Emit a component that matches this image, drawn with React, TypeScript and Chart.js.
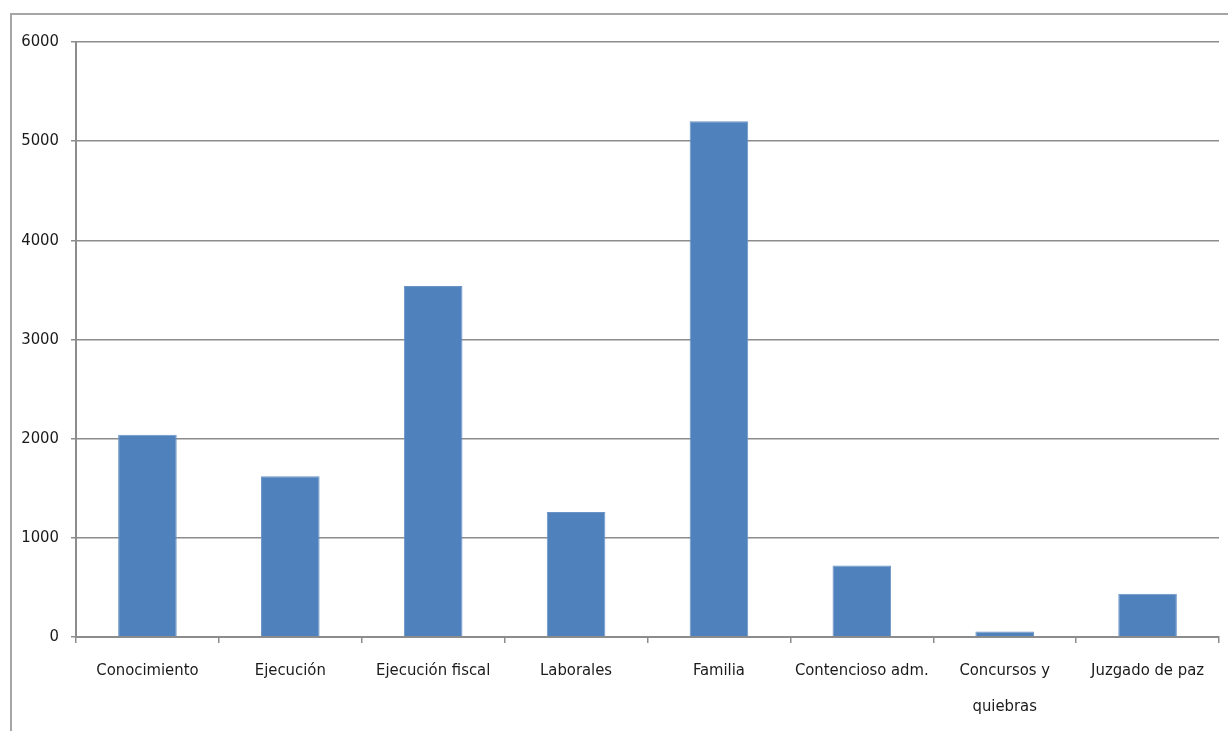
import React, { useEffect, useRef } from "react";
import { Chart, registerables } from "chart.js";

Chart.register(...registerables);

const categories: (string | string[])[] = [
  "Conocimiento",
  "Ejecución",
  "Ejecución fiscal",
  "Laborales",
  "Familia",
  "Contencioso adm.",
  ["Concursos y", "quiebras"],
  "Juzgado de paz",
];
const values: number[] = [2040, 1620, 3540, 1260, 5200, 720, 55, 435];
const yTicks: number[] = [0, 1000, 2000, 3000, 4000, 5000, 6000];

const FONT = "'DejaVu Sans Condensed', 'Liberation Sans Narrow', sans-serif";

const framePlugin = {
  id: "frame",
  beforeDraw(chart: any) {
    const ctx = chart.ctx;
    ctx.save();
    ctx.strokeStyle = "#a6a6a6";
    ctx.lineWidth = 2;
    ctx.beginPath();
    ctx.moveTo(11, 731);
    ctx.lineTo(11, 14);
    ctx.lineTo(1228, 14);
    ctx.stroke();
    ctx.restore();
  },
};

export default function App() {
  const ref = useRef<HTMLCanvasElement>(null);
  useEffect(() => {
    if (!ref.current) return;
    const chart = new Chart(ref.current, {
      type: "bar",
      data: {
        labels: categories,
        datasets: [
          {
            data: values,
            backgroundColor: "#4F81BD",
            borderColor: "#6b93c6",
            borderWidth: 1,
            barPercentage: 0.41,
            categoryPercentage: 1,
          },
        ],
      },
      plugins: [framePlugin],
      options: {
        animation: false,
        responsive: false,
        maintainAspectRatio: false,
        layout: { padding: { left: 0, top: 42, right: 9, bottom: 0 } },
        plugins: { legend: { display: false }, tooltip: { enabled: false } },
        scales: {
          x: {
            grid: {
              offset: true,
              drawOnChartArea: false,
              drawTicks: true,
              tickLength: 6,
              color: "#8c8c8c",
              lineWidth: 1.5,
            },
            border: { color: "#8c8c8c", width: 2 },
            ticks: {
              color: "#1a1a1a",
              font: { family: FONT, size: 16.5, lineHeight: "36px" as any },
              padding: 10,
              maxRotation: 0,
              autoSkip: false,
            },
            afterFit(scale: any) {
              scale.height = 94;
            },
          },
          y: {
            min: 0,
            max: 6000,
            afterBuildTicks(scale: any) {
              scale.ticks = yTicks.map((v) => ({ value: v }));
            },
            grid: {
              color: "#8c8c8c",
              lineWidth: 1.5,
              tickLength: 5,
            },
            border: { color: "#8c8c8c", width: 2 },
            ticks: {
              color: "#1a1a1a",
              font: { family: FONT, size: 16.5 },
              padding: 12,
              callback: (v: any) => String(v),
            },
            afterFit(scale: any) {
              scale.width = 76;
            },
          },
        },
      },
    });
    return () => chart.destroy();
  }, []);
  return (
    <div style={{ position: "absolute", left: 0, top: 0, width: 1228, height: 731, background: "#fff" }}>
      <canvas ref={ref} width={1228} height={731} style={{ width: 1228, height: 731, display: "block" }} />
    </div>
  );
}
